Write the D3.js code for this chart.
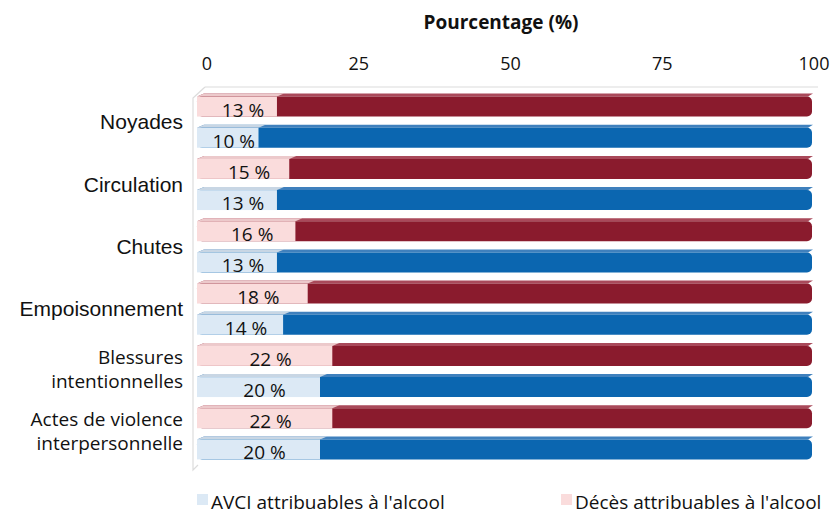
<!DOCTYPE html>
<html>
<head>
<meta charset="utf-8">
<script src="https://cdn.jsdelivr.net/npm/d3@7"></script>
<style>
  body { margin: 0; background: #fff; }
  text { font-family: "Open Sans", sans-serif; fill: #111; }
</style>
</head>
<body>
<div id="chart"></div>
<script>
var categories = ["Noyades", "Circulation", "Chutes", "Empoisonnement",
    "Blessures intentionnelles", "Actes de violence interpersonnelle"];
var categoryLines = [["Noyades"], ["Circulation"], ["Chutes"], ["Empoisonnement"],
    ["Blessures", "intentionnelles"], ["Actes de violence", "interpersonnelle"]];
var deces = [13, 15, 16, 18, 22, 22];
var avci = [10, 13, 13, 14, 20, 20];
var xTicks = [0, 25, 50, 75, 100];
var seriesKeys = ["deces", "avci"];
var seriesNames = ["Décès attribuables à l'alcool", "AVCI attribuables à l'alcool"];
var axisTitle = "Pourcentage (%)";

var width = 833, height = 514;
var depthX = 7, depthY = 3;

var colors = {
    deces: { light: "#fadcdc", lightTop: "#ecc9cb", dark: "#8a1b2d", darkTop: "#a9495a" },
    avci:  { light: "#dce9f5", lightTop: "#c8d6e4", dark: "#0b66b0", darkTop: "#3f80bd" }
};

var svg = d3.select("#chart").append("svg")
    .attr("width", width)
    .attr("height", height);

// bars sit on the front plane, the tick labels on the back one
var x = d3.scaleLinear().domain([0, 100]).range([197, 812]);
var xBack = d3.scaleLinear().domain([0, 100]).range([207, 814]);

var y = d3.scaleBand().domain(categories).range([91, 465]);
var ySub = d3.scaleBand().domain(seriesKeys).range([0, y.bandwidth()])
    .paddingInner(0.36).paddingOuter(0.18);

var rows = [];
categories.forEach(function(c, i) {
    rows.push({ cat: c, key: "deces", value: deces[i] });
    rows.push({ cat: c, key: "avci", value: avci[i] });
});

drawFrame();
drawAxis();
drawBars();
drawLabels();
drawLegend();

function drawFrame() {
    var g = svg.append("g").attr("id", "frame");
    var top = 87;
    g.append("line")
        .attr("x1", x(0) + depthX + 1).attr("x2", x(100) + depthX - 1)
        .attr("y1", top).attr("y2", top)
        .attr("stroke", "#dcdcdc").attr("stroke-width", 1.2);
    g.append("path")
        .attr("d", "M" + (x(0) + depthX + 1) + "," + top +
            "L" + (x(0) - 4) + "," + (top + 11) +
            "L" + (x(0) - 4) + "," + 470 +
            "L" + (x(0) + 1) + "," + 465)
        .attr("fill", "none")
        .attr("stroke", "#dcdcdc").attr("stroke-width", 1.2);
}

function drawAxis() {
    var g = svg.append("g").attr("id", "axis");
    g.append("text")
        .attr("x", 501).attr("y", 29)
        .attr("text-anchor", "middle")
        .style("font-weight", "bold")
        .style("font-size", "19px")
        .text(axisTitle);
    g.selectAll(".tick")
        .data(xTicks)
        .enter()
        .append("text")
        .attr("class", "tick")
        .attr("x", function(d) { return xBack(d); })
        .attr("y", 70)
        .attr("text-anchor", "middle")
        .style("font-size", "18px")
        .text(function(d) { return d; });
}

function drawBars() {
    var g = svg.append("g").attr("id", "bars");
    var bh = ySub.bandwidth();

    var bar = g.selectAll(".bar")
        .data(rows)
        .enter()
        .append("g")
        .attr("class", "bar")
        .attr("transform", function(d) { return "translate(0," + (y(d.cat) + ySub(d.key)) + ")"; });

    // top faces
    bar.append("path")
        .attr("d", function(d) {
            return "M" + x(0) + ",0L" + (x(0) + depthX) + "," + (-depthY) +
                "L" + (x(100) + depthX - 6) + "," + (-depthY) + "L" + (x(100) - 4) + ",0Z";
        })
        .attr("fill", function(d) { return colors[d.key].darkTop; });
    bar.append("path")
        .attr("d", function(d) {
            return "M" + x(0) + ",0L" + (x(0) + depthX) + "," + (-depthY) +
                "L" + (x(d.value) + depthX) + "," + (-depthY) + "L" + x(d.value) + ",0Z";
        })
        .attr("fill", function(d) { return colors[d.key].lightTop; });

    // front faces
    bar.append("rect")
        .attr("x", x(0))
        .attr("y", 0)
        .attr("width", x(100) - x(0))
        .attr("height", bh)
        .attr("rx", 5)
        .attr("fill", function(d) { return colors[d.key].dark; });
    bar.append("rect")
        .attr("x", x(0))
        .attr("y", 0)
        .attr("width", function(d) { return x(d.value) - x(0); })
        .attr("height", bh)
        .attr("fill", function(d) { return colors[d.key].light; });

    bar.append("text")
        .attr("x", function(d) { return (x(0) + x(d.value)) / 2 + 6; })
        .attr("y", bh / 2 + 10)
        .attr("text-anchor", "middle")
        .style("font-size", "19px")
        .text(function(d) { return d.value + " %"; });
}

function drawLabels() {
    var g = svg.append("g").attr("id", "labels");
    var lab = g.selectAll(".cat")
        .data(categories)
        .enter()
        .append("text")
        .attr("class", "cat")
        .attr("text-anchor", "end")
        .attr("x", 183)
        .attr("y", function(d) { return y(d) + y.bandwidth() / 2; })
        .style("font-family", function(d, i) {
            return categoryLines[i].length > 1 ? "'Open Sans', sans-serif" : "'Liberation Sans', Arial, sans-serif";
        })
        .style("font-size", function(d, i) { return categoryLines[i].length > 1 ? "19px" : "21px"; });

    lab.selectAll("tspan")
        .data(function(d, i) { return categoryLines[i]; })
        .enter()
        .append("tspan")
        .attr("x", 183)
        .attr("dy", function(d, j, nodes) {
            if (nodes.length == 1) return 7;
            return j == 0 ? -8 : 24;
        })
        .text(function(d) { return d; });
}

function drawLegend() {
    var g = svg.append("g").attr("id", "legend");
    var items = [
        { name: seriesNames[1], key: "avci", x: 197 },
        { name: seriesNames[0], key: "deces", x: 561 }
    ];
    var item = g.selectAll(".legendItem")
        .data(items)
        .enter()
        .append("g")
        .attr("class", "legendItem")
        .attr("transform", function(d) { return "translate(" + d.x + ",494)"; });
    item.append("rect")
        .attr("width", 11)
        .attr("height", 11)
        .attr("fill", function(d) { return colors[d.key].light; });
    item.append("text")
        .attr("x", 14)
        .attr("y", 15)
        .style("font-size", "19px")
        .text(function(d) { return d.name; });
}
</script>
</body>
</html>
